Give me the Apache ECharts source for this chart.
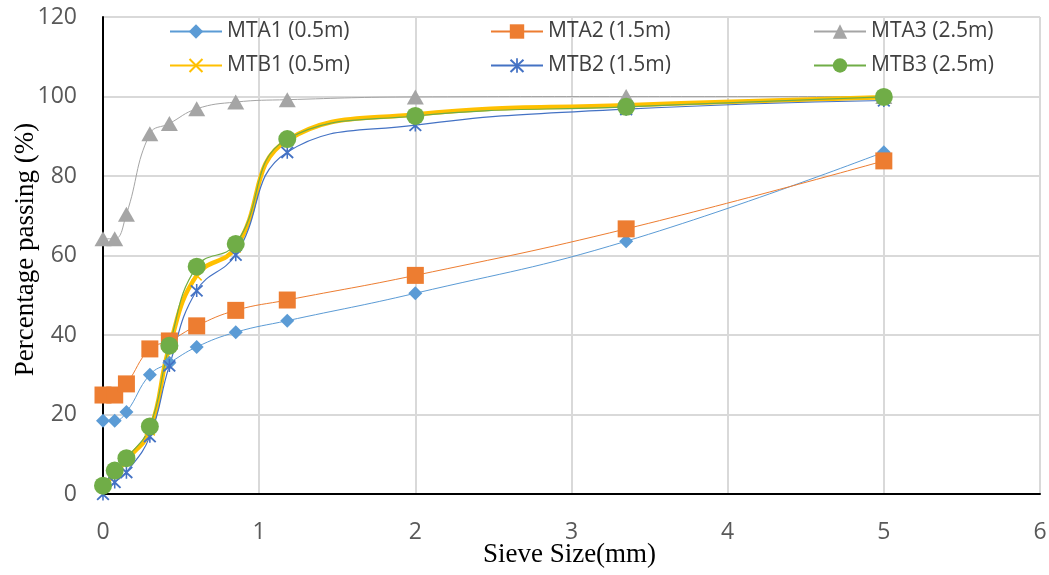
<!DOCTYPE html>
<html>
<head>
<meta charset="utf-8">
<script src="https://cdn.jsdelivr.net/npm/echarts@6/dist/echarts.min.js"></script>
<style>html,body{margin:0;padding:0;background:#fff;}#c{width:1049px;height:575px;}</style>
</head>
<body>
<div id="c"></div>
<script>
const sieve = [0, 0.075, 0.15, 0.3, 0.425, 0.6, 0.85, 1.18, 2, 3.35, 5];
const mta1 = [18.4, 18.4, 20.6, 30, 33, 37, 40.7, 43.6, 50.5, 63.6, 86];
const mta2 = [24.9, 24.9, 27.7, 36.5, 38.5, 42.3, 46.2, 48.8, 55, 66.7, 83.8];
const mta3 = [64.2, 64.2, 70.4, 90.6, 93.2, 96.9, 98.6, 99.2, 99.9, 100, 100];
const mtb1 = [2, 5, 8.5, 16, 37, 55, 62, 89, 95.5, 97.8, 99.8];
const mtb2 = [0, 3, 5.5, 14.5, 32.3, 51.2, 60.2, 86, 92.8, 96.8, 99];
const mtb3 = [2.1, 5.9, 9, 17, 37.3, 57.2, 62.9, 89.3, 95.1, 97.4, 99.9];
const names = ['MTA1 (0.5m)', 'MTA2 (1.5m)', 'MTA3 (2.5m)', 'MTB1 (0.5m)', 'MTB2 (1.5m)', 'MTB3 (2.5m)'];
const xTicks = [0, 1, 2, 3, 4, 5, 6];
const yTicks = [0, 20, 40, 60, 80, 100, 120];

const pairs = (ys) => sieve.map((x, i) => [x, ys[i]]);
const xPath = 'path://M0,1 L1,0 L5,4 L9,0 L10,1 L6,5 L10,9 L9,10 L5,6 L1,10 L0,9 L4,5 Z';
const starPath = 'path://M4.4,0 L5.6,0 L5.6,10 L4.4,10 Z M0,1.5 L1,0.5 L5,4.3 L9,0.5 L10,1.5 L6,5.2 L10,9 L9,10 L5,6.2 L1,10 L0,9 L4,5.2 Z';

function mk(name, ys, color, width, symbol, size) {
  return {
    name: name, type: 'line', data: pairs(ys), smooth: 0.45,
    symbol: symbol, symbolSize: size,
    lineStyle: {color: color, width: width},
    itemStyle: {color: color, borderWidth: 0},
    emphasis: {disabled: true}
  };
}

const series = [
  mk(names[0], mta1, '#5B9BD5', 1, 'diamond', 14),
  mk(names[1], mta2, '#ED7D31', 1, 'rect', 17),
  mk(names[2], mta3, '#A5A5A5', 1, 'triangle', [17, 15]),
  mk(names[3], mtb1, '#FFC000', 4.5, xPath, 11),
  mk(names[4], mtb2, '#4472C4', 1.2, starPath, 13),
  mk(names[5], mtb3, '#70AD47', 1.2, 'circle', 18)
];

const legendText = {fontFamily: 'Open Sans', fontSize: 21, color: '#404040'};
function lg(left, data) {
  return {
    orient: 'vertical', left: left, top: 21, itemWidth: 52, itemHeight: 18,
    itemGap: 13, data: data, textStyle: legendText, selectedMode: false, padding: 0
  };
}

const chart = echarts.init(document.getElementById('c'), null, {renderer: 'canvas'});
chart.setOption({
  animation: false,
  backgroundColor: '#fff',
  grid: {left: 103, right: 9, top: 17, bottom: 81, containLabel: false, outerBoundsMode: 'none'},
  legend: [
    lg(169, [names[0], names[3]]),
    lg(490, [names[1], names[4]]),
    lg(813, [names[2], names[5]])
  ],
  xAxis: {
    type: 'value', min: xTicks[0], max: xTicks[xTicks.length - 1], interval: 1,
    name: 'Sieve Size(mm)', nameLocation: 'middle', nameGap: 47, nameMoveOverlap: false,
    nameTextStyle: {fontFamily: 'Liberation Serif', fontSize: 27, color: '#000', padding: [0, 4, 0, 0]},
    axisLine: {show: true, lineStyle: {color: '#000', width: 2}},
    axisTick: {show: false},
    axisLabel: {fontFamily: 'Open Sans', fontSize: 23, color: '#595959', margin: 27},
    splitLine: {show: true, lineStyle: {color: '#d9d9d9', width: 2}}
  },
  yAxis: {
    type: 'value', min: yTicks[0], max: yTicks[yTicks.length - 1], interval: 20,
    name: 'Percentage passing (%)', nameLocation: 'middle', nameGap: 64, nameMoveOverlap: false,
    nameTextStyle: {fontFamily: 'Liberation Serif', fontSize: 27, color: '#000', padding: [0, 0, 0, 12]},
    axisLine: {show: true, lineStyle: {color: '#000', width: 2}},
    axisTick: {show: false},
    axisLabel: {fontFamily: 'Open Sans', fontSize: 23, color: '#595959', margin: 26},
    splitLine: {show: true, lineStyle: {color: '#d9d9d9', width: 2}}
  },
  series: series
});
</script>
</body>
</html>
